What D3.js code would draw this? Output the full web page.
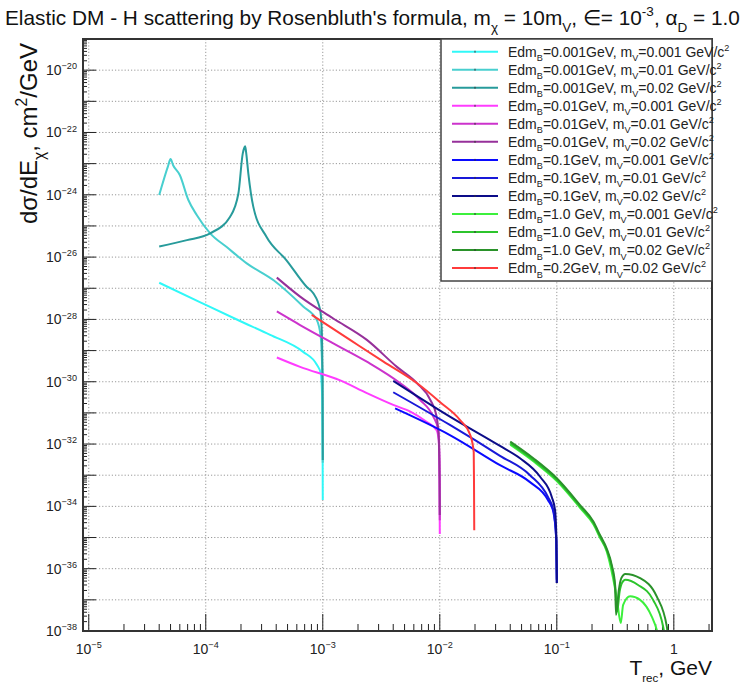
<!DOCTYPE html>
<html>
<head>
<meta charset="utf-8">
<script src="https://cdn.jsdelivr.net/npm/d3@7"></script>
<style>
body { margin: 0; background: #fff; }
svg { font-family: "Liberation Sans", Arial, sans-serif; }
</style>
</head>
<body>
<div id="chart"></div>
<script>
// Series data: [T_rec (GeV), dsigma/dE (cm2/GeV)]

var s_001_0001 = [[4.0e-5, 1.5e-27], [8.9e-5, 3.6e-28], [1.96e-4, 8.9e-29], [3.55e-4, 3.2e-29], [6.8e-4, 9.1e-30],
    [8.9e-4, 3.5e-30], [9.6e-4, 1.9e-30], [9.9e-4, 2.6e-31], [9.97e-4, 6.4e-33], [1.0e-3, 1.6e-34]];
var s_001_001 = [[4.0e-5, 9.8e-25], [4.76e-5, 8.3e-24], [5.0e-5, 1.4e-23], [5.26e-5, 8.9e-24], [6.0e-5, 4.3e-24],
    [7.1e-5, 6.8e-25], [8.4e-5, 2.2e-25], [1.09e-4, 5.8e-26], [1.51e-4, 2.1e-26], [2.24e-4, 6.3e-27],
    [3.8e-4, 1.8e-27], [6.8e-4, 2.6e-28], [8.9e-4, 9.5e-29], [9.6e-4, 2.8e-29], [9.94e-4, 1.1e-30], [1.0e-3, 2.5e-33]];
var s_001_002 = [[4.0e-5, 2.2e-26], [6.9e-5, 3.5e-26], [1.09e-4, 5.8e-26], [1.61e-4, 1.95e-25], [1.90e-4, 1.1e-24],
    [2.07e-4, 2.1e-23], [2.14e-4, 3.3e-23], [2.17e-4, 3.6e-23], [2.21e-4, 2.4e-23], [2.31e-4, 4.9e-24],
    [2.55e-4, 4.1e-25], [3.3e-4, 4.5e-26], [4.9e-4, 7.9e-27], [7.3e-4, 1.1e-27], [8.3e-4, 6.9e-28],
    [9.5e-4, 2.0e-28], [9.8e-4, 4.6e-29], [9.96e-4, 1.1e-30], [1.0e-3, 3.1e-33]];

var s_01_0001 = [[4.05e-4, 6.0e-30], [6.4e-4, 3.0e-30], [1.41e-3, 1.1e-30], [2.38e-3, 4.3e-31], [4.0e-3, 1.8e-31],
    [5.6e-3, 1.1e-31], [7.7e-3, 5.2e-32], [9.4e-3, 2.8e-32], [9.78e-3, 1.35e-32], [9.96e-3, 7.1e-34], [1.0e-2, 1.3e-35]];
var s_01_001 = [[4.05e-4, 1.8e-28], [6.4e-4, 6.6e-29], [1.23e-3, 1.7e-29], [2.38e-3, 4.4e-30], [4.6e-3, 8.9e-31],
    [6.8e-3, 2.6e-31], [8.8e-3, 7.6e-32], [9.73e-3, 2.8e-32], [9.94e-3, 3.1e-33], [1.0e-2, 3.6e-35]];
var s_01_002 = [[4.05e-4, 2.2e-27], [6.4e-4, 5.4e-28], [1.23e-3, 1.07e-28], [2.38e-3, 2.2e-29], [4.3e-3, 3.0e-30],
    [6.4e-3, 8.9e-31], [8.3e-3, 2.6e-31], [9.4e-3, 7.6e-32], [9.8e-3, 1.5e-32], [9.96e-3, 7.1e-34], [1.0e-2, 5.3e-35]];

var s_1_0001 = [[4.15e-3, 1.4e-31], [1.22e-2, 1.95e-32], [3.27e-2, 2.1e-33], [5.9e-2, 6.0e-34], [8.4e-2, 1.6e-34],
    [9.35e-2, 6.6e-35], [9.9e-2, 8.3e-36], [1.0e-1, 3.5e-37]];
var s_1_001 = [[4.0e-3, 4.6e-31], [1.22e-2, 4.1e-32], [3.27e-2, 4.2e-33], [5.9e-2, 1.0e-33], [8.4e-2, 2.0e-34],
    [9.35e-2, 7.6e-35], [9.9e-2, 8.3e-36], [1.0e-1, 4.4e-37]];
var s_1_002 = [[4.0e-3, 1.07e-30], [1.22e-2, 7.6e-32], [3.27e-2, 8.7e-33], [4.85e-2, 3.5e-33], [7.2e-2, 8.9e-34],
    [9.06e-2, 2.0e-34], [9.66e-2, 7.6e-35], [9.93e-2, 8.3e-36], [1.0e-1, 3.5e-37]];

var s_10_0001 = [[4.0e-2, 0.95e-32], [6.3e-2, 2.8e-33], [0.1, 6.5e-34], [0.158, 9.0e-35], [0.206, 2.6e-35],
    [0.234, 9.8e-36], [0.267, 3.6e-36], [0.301, 5.5e-37], [0.327, 1.0e-37], [0.352, 1.8e-38], [0.369, 6.9e-38],
    [0.423, 1.3e-37], [0.515, 1.0e-37], [0.648, 2.9e-38], [0.716, 1.07e-38], [0.75, 5e-39]];
var s_10_001 = [[4.0e-2, 1.05e-32], [6.3e-2, 3.1e-33], [0.1, 7.1e-34], [0.158, 9.8e-35], [0.206, 2.9e-35],
    [0.234, 1.07e-35], [0.267, 4.0e-36], [0.295, 1.15e-36], [0.315, 2.6e-37], [0.328, 4.2e-38], [0.344, 1.8e-37],
    [0.361, 3.5e-37], [0.385, 4.4e-37], [0.495, 3.0e-37], [0.665, 1.0e-37], [0.81, 1.4e-38], [0.85, 5e-39]];
var s_10_002 = [[4.0e-2, 1.2e-32], [6.3e-2, 3.5e-33], [0.1, 8.0e-34], [0.158, 1.1e-34], [0.206, 3.2e-35],
    [0.234, 1.2e-35], [0.267, 4.4e-36], [0.295, 1.3e-36], [0.315, 3.0e-37], [0.321, 3.3e-38], [0.339, 2.1e-37],
    [0.356, 5.0e-37], [0.385, 6.8e-37], [0.515, 5.0e-37], [0.716, 1.26e-37], [0.871, 1.4e-38], [0.9, 5e-39]];

var s_2_002 = [[8.05e-4, 1.4e-28], [1.71e-3, 2.2e-29], [3.3e-3, 4.4e-30], [6.4e-3, 8.9e-31], [1.007e-2, 2.2e-31],
    [1.49e-2, 5.9e-32], [1.82e-2, 1.95e-32], [1.95e-2, 5.5e-33], [1.96e-2, 7.1e-34], [1.97e-2, 1.7e-35]];

var all_series = [s_001_0001, s_001_001, s_001_002, s_01_0001, s_01_001, s_01_002,
    s_1_0001, s_1_001, s_1_002, s_10_0001, s_10_001, s_10_002, s_2_002];

// legend texts
var edm_labels = ['0.001GeV', '0.001GeV', '0.001GeV', '0.01GeV', '0.01GeV', '0.01GeV',
    '0.1GeV', '0.1GeV', '0.1GeV', '1.0 GeV', '1.0 GeV', '1.0 GeV', '0.2GeV'];
var mv_labels = ['0.001', '0.01', '0.02', '0.001', '0.01', '0.02',
    '0.001', '0.01', '0.02', '0.001', '0.01', '0.02', '0.02'];

var colors = ['#30f8f8', '#48cfcf', '#279b9b', '#ff3cff', '#cc33cc', '#96309a',
    '#0a0aff', '#1818d8', '#0c0c88', '#3cf03c', '#2cc42c', '#2a922a', '#ff3b3b'];

// axis ticks
var x_decades = [1e-5, 1e-4, 1e-3, 1e-2, 1e-1, 1];
var x_tick_exps = ['-5', '-4', '-3', '-2', '-1', ''];
var y_label_exps = [-38, -36, -34, -32, -30, -28, -26, -24, -22, -20];

var width = 755, height = 689;
var margin = {
    top: 39,
    bottom: 58,
    left: 83,
    right: 43
};
var w = width - margin.left - margin.right;
var h = height - margin.top - margin.bottom;

var svg = d3.select('#chart')
    .append('svg')
    .attr('width', width)
    .attr('height', height);

var g = svg.append('g')
    .attr('transform', 'translate(' + margin.left + ',' + margin.top + ')');

var x = d3.scaleLog()
    .domain([8.93e-6, 2.12])
    .range([0, w]);

var y = d3.scaleLog()
    .domain([1e-38, 1e-19])
    .range([h, 0]);

// text with sub/superscripts
function rich(sel, parts, size, small) {
    small = small || 0.65;
    var shift = 0;
    parts.forEach(function(p) {
        var target = p[1] == 'sub' ? size * 0.32 : (p[1] == 'sup' ? -size * 0.42 : 0);
        var t = sel.append('tspan')
            .text(p[0])
            .attr('dy', target - shift);
        if (p[1] != 'n') t.attr('font-size', size * small);
        shift = target;
    });
}

// grid
var y_decades = d3.range(-37, -19).map(function(e) { return Math.pow(10, e); });

g.selectAll('.gx')
    .data(x_decades)
    .enter()
    .append('line')
    .attr('x1', function(d) { return x(d); })
    .attr('x2', function(d) { return x(d); })
    .attr('y1', 0)
    .attr('y2', h)
    .attr('stroke', '#999')
    .attr('stroke-width', 1)
    .attr('stroke-dasharray', '1.2,2');

g.selectAll('.gy')
    .data(y_decades)
    .enter()
    .append('line')
    .attr('x1', 0)
    .attr('x2', w)
    .attr('y1', function(d) { return y(d); })
    .attr('y2', function(d) { return y(d); })
    .attr('stroke', '#999')
    .attr('stroke-width', 1)
    .attr('stroke-dasharray', '1.2,2');

// ticks
var x_minor = [];
for (var e = -6; e <= 0; e++) {
    for (var k = 2; k <= 9; k++) {
        var v = k * Math.pow(10, e);
        if (v > x.domain()[0] && v < x.domain()[1]) x_minor.push(v);
    }
}
var y_minor = [];
for (var e2 = -38; e2 < -19; e2++) {
    for (var k2 = 2; k2 <= 9; k2++) y_minor.push(k2 * Math.pow(10, e2));
}

g.selectAll('.xt')
    .data(x_decades.map(function(d) { return [d, 17]; }).concat(x_minor.map(function(d) { return [d, 7]; })))
    .enter()
    .append('line')
    .attr('x1', function(d) { return x(d[0]); })
    .attr('x2', function(d) { return x(d[0]); })
    .attr('y1', h)
    .attr('y2', function(d) { return h - d[1]; })
    .attr('stroke', '#222')
    .attr('stroke-width', 1);

g.selectAll('.yt')
    .data(d3.range(-38, -18).map(function(e) { return [Math.pow(10, e), 13]; })
        .concat(y_minor.map(function(d) { return [d, 4]; })))
    .enter()
    .append('line')
    .attr('y1', function(d) { return y(d[0]); })
    .attr('y2', function(d) { return y(d[0]); })
    .attr('x1', 0)
    .attr('x2', function(d) { return d[1]; })
    .attr('stroke', '#222')
    .attr('stroke-width', 1);

// tick labels
x_decades.forEach(function(d, i) {
    var t = g.append('text')
        .attr('x', x(d))
        .attr('y', h + 23)
        .attr('text-anchor', 'middle')
        .attr('font-size', 14)
        .attr('fill', '#222');
    if (x_tick_exps[i] === '') rich(t, [['1', 'n']], 14);
    else rich(t, [['10', 'n'], ['\u2212' + x_tick_exps[i].slice(1), 'sup']], 14);
});

y_label_exps.forEach(function(e) {
    var t = g.append('text')
        .attr('x', -6)
        .attr('y', y(Math.pow(10, e)) + 5)
        .attr('text-anchor', 'end')
        .attr('font-size', 14)
        .attr('fill', '#222');
    rich(t, [['10', 'n'], ['\u2212' + String(-e), 'sup']], 14);
});

// curves
svg.append('clipPath')
    .attr('id', 'plotclip')
    .append('rect')
    .attr('width', w)
    .attr('height', h);

var line = d3.line()
    .x(function(d) { return x(d[0]); })
    .y(function(d) { return y(d[1]); })
    .curve(d3.curveMonotoneX);

var curves = g.append('g').attr('clip-path', 'url(#plotclip)');

all_series.forEach(function(s, i) {
    curves.append('path')
        .datum(s)
        .attr('d', line)
        .attr('fill', 'none')
        .attr('stroke', colors[i])
        .attr('stroke-width', 2);
});

// frame
g.append('rect')
    .attr('width', w)
    .attr('height', h)
    .attr('fill', 'none')
    .attr('stroke', '#333')
    .attr('stroke-width', 2);

// legend
var leg = g.append('g')
    .attr('transform', 'translate(' + (441 - margin.left) + ',0)');

leg.append('rect')
    .attr('width', w - (441 - margin.left))
    .attr('height', 242)
    .attr('fill', '#fff')
    .attr('stroke', '#444')
    .attr('stroke-width', 1.5);

edm_labels.forEach(function(lab, i) {
    var cy = 12.7 + i * 18.03;
    leg.append('line')
        .attr('x1', 11)
        .attr('x2', 57)
        .attr('y1', cy)
        .attr('y2', cy)
        .attr('stroke', colors[i])
        .attr('stroke-width', 2);
    leg.append('line')
        .attr('x1', 34)
        .attr('x2', 34)
        .attr('y1', cy - 1)
        .attr('y2', cy + 1)
        .attr('stroke', '#333')
        .attr('stroke-width', 1);
    var t = leg.append('text')
        .attr('x', 67)
        .attr('y', cy + 5)
        .attr('font-size', 14)
        .attr('fill', '#222');
    rich(t, [['Edm', 'n'], ['B', 'sub'], ['=' + lab + ', m', 'n'], ['V', 'sub'],
        ['=' + mv_labels[i] + ' GeV/c', 'n'], ['2', 'sup']], 14);
});

// title and axis titles
var title = svg.append('text')
    .attr('x', 5)
    .attr('y', 25)
    .attr('font-size', 20.8)
    .attr('fill', '#111');
rich(title, [["Elastic DM - H scattering by Rosenbluth's formula, m", 'n'], ['\u03c7', 'sub'],
    [' = 10m', 'n'], ['V', 'sub'], [', \u2208= 10', 'n'], ['-3', 'sup'], [', \u03b1', 'n'], ['D', 'sub'], [' = 1.0', 'n']], 20.8);

var xt = svg.append('text')
    .attr('x', margin.left + w)
    .attr('y', 675)
    .attr('text-anchor', 'end')
    .attr('font-size', 21)
    .attr('fill', '#111');
rich(xt, [['T', 'n'], ['rec', 'sub'], [', GeV', 'n']], 21, 0.55);

var yt = svg.append('text')
    .attr('transform', 'translate(37,' + (margin.top + 4) + ') rotate(-90)')
    .attr('text-anchor', 'end')
    .attr('font-size', 24)
    .attr('fill', '#111');
rich(yt, [['d\u03c3/dE', 'n'], ['\u03c7', 'sub'], [', cm', 'n'], ['2', 'sup'], ['/GeV', 'n']], 24);
</script>
</body>
</html>
